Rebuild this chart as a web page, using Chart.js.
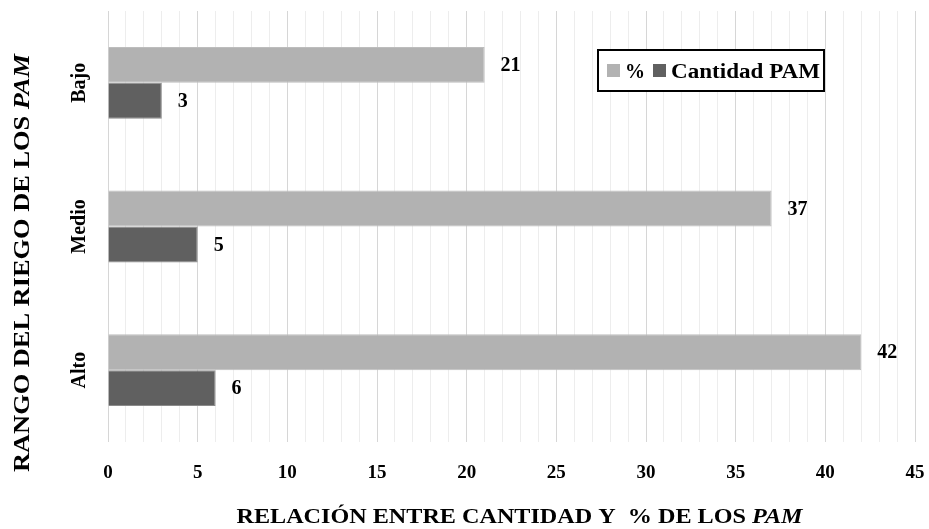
<!DOCTYPE html>
<html><head><meta charset="utf-8">
<script src="https://cdn.jsdelivr.net/npm/chart.js@4/dist/chart.umd.min.js"></script>
<style>html,body{margin:0;padding:0;background:#fff;} #wrap{width:929px;height:529px;position:relative}</style>
</head><body><div id="wrap"><canvas id="c" width="929" height="529"></canvas></div>
<script>
const categories = ['Bajo', 'Medio', 'Alto'];
const porcentaje = [21, 37, 42];
const cantidadPAM = [3, 5, 6];
const seriesNames = ['%', 'Cantidad PAM'];
const xMin = 0, xMax = 45, xStep = 1, xLabelEvery = 5;
const xTitleParts = [['RELACIÓN ENTRE CANTIDAD Y  % DE LOS ', false], ['PAM', true]];
const yTitleParts = [['RANGO DEL RIEGO DE LOS ', false], ['PAM', true]];

const FAMILY = '"Liberation Serif", "Times New Roman", serif';
const LIGHT = '#b2b2b2', DARK = '#606060';

// draw mixed-style text, baseline alphabetic, centered at cx, stretched to targetW
function drawParts(ctx, parts, size, cx, by, targetW) {
  let total = 0;
  const fonts = parts.map(([t, it]) => (it ? 'italic ' : '') + 'bold ' + size + 'px ' + FAMILY);
  const w = parts.map(([t], i) => { ctx.font = fonts[i]; const m = ctx.measureText(t).width; total += m; return m; });
  const sx = targetW ? targetW / total : 1;
  ctx.save();
  ctx.translate(cx, by);
  ctx.scale(sx, 1);
  ctx.textBaseline = 'alphabetic'; ctx.textAlign = 'left';
  let x = -total / 2;
  parts.forEach(([t], i) => { ctx.font = fonts[i]; ctx.fillText(t, x, 0); x += w[i]; });
  ctx.restore();
}

const decor = {
  id: 'decor',
  afterDatasetsDraw(chart) {
    const ctx = chart.ctx;
    ctx.save();
    ctx.fillStyle = '#000';
    ctx.font = 'bold 20px ' + FAMILY;
    ctx.textBaseline = 'middle'; ctx.textAlign = 'left';
    chart.data.datasets.forEach((ds, di) => {
      chart.getDatasetMeta(di).data.forEach((bar, i) => {
        ctx.fillText(String(ds.data[i]), bar.x + 16, bar.y + 1);
      });
    });
    // category labels
    const ys = chart.scales.y;
    categories.forEach((c, i) => {
      const py = ys.getPixelForValue(i);
      ctx.save();
      ctx.translate(85, py);
      ctx.rotate(-Math.PI / 2);
      ctx.textAlign = 'center'; ctx.textBaseline = 'alphabetic';
      ctx.font = 'bold 20px ' + FAMILY;
      ctx.fillText(c, 0, 0);
      ctx.restore();
    });
    // axis titles
    drawParts(ctx, xTitleParts, 20, 519.5, 523, 566);
    ctx.save();
    ctx.translate(29, 263);
    ctx.rotate(-Math.PI / 2);
    drawParts(ctx, yTitleParts, 23, 0, 0, 418);
    ctx.restore();
    // legend
    const lx = 598, ly = 50, lw = 226, lh = 41;
    ctx.fillStyle = '#fff';
    ctx.fillRect(lx, ly, lw, lh);
    ctx.strokeStyle = '#000'; ctx.lineWidth = 2;
    ctx.strokeRect(lx, ly, lw, lh);
    const cy = ly + lh / 2;
    const swatchX = [607, 653];
    const textX = [625, 671];
    const textW = [20, 149];
    [LIGHT, DARK].forEach((col, i) => {
      ctx.fillStyle = col;
      ctx.fillRect(swatchX[i], cy - 6.5, 13, 13);
      ctx.fillStyle = '#000';
      drawParts(ctx, [[seriesNames[i], false]], 20, textX[i] + textW[i] / 2, cy + 7, textW[i]);
    });
    ctx.restore();
  }
};

new Chart(document.getElementById('c'), {
  type: 'bar',
  data: {
    labels: categories,
    datasets: [
      { label: seriesNames[0], data: porcentaje, backgroundColor: LIGHT, borderColor: '#bdbdbd', borderWidth: 1, categoryPercentage: 0.5, barPercentage: 1 },
      { label: seriesNames[1], data: cantidadPAM, backgroundColor: DARK, borderColor: '#8a8a8a', borderWidth: 1, categoryPercentage: 0.5, barPercentage: 1 }
    ]
  },
  options: {
    indexAxis: 'y',
    responsive: false,
    devicePixelRatio: 1,
    animation: false,
    layout: { padding: { left: 108, right: 14, top: 11, bottom: 0 } },
    plugins: { legend: { display: false }, tooltip: { enabled: false } },
    scales: {
      x: {
        min: xMin, max: xMax,
        border: { display: false },
        grid: {
          drawTicks: false,
          color: c => (c.tick && c.tick.value % xLabelEvery === 0) ? '#d6d6d6' : '#ededed',
          lineWidth: 1
        },
        ticks: {
          stepSize: xStep, autoSkip: false, maxRotation: 0, padding: 20,
          color: '#000',
          font: { family: FAMILY, size: 19, weight: 'bold' },
          callback: v => (v % xLabelEvery === 0 ? String(v) : '')
        },
        afterFit: s => { s.height = 87; s.paddingRight = 0; s.paddingLeft = 0; }
      },
      y: { display: false }
    }
  },
  plugins: [decor]
});
</script></body></html>
